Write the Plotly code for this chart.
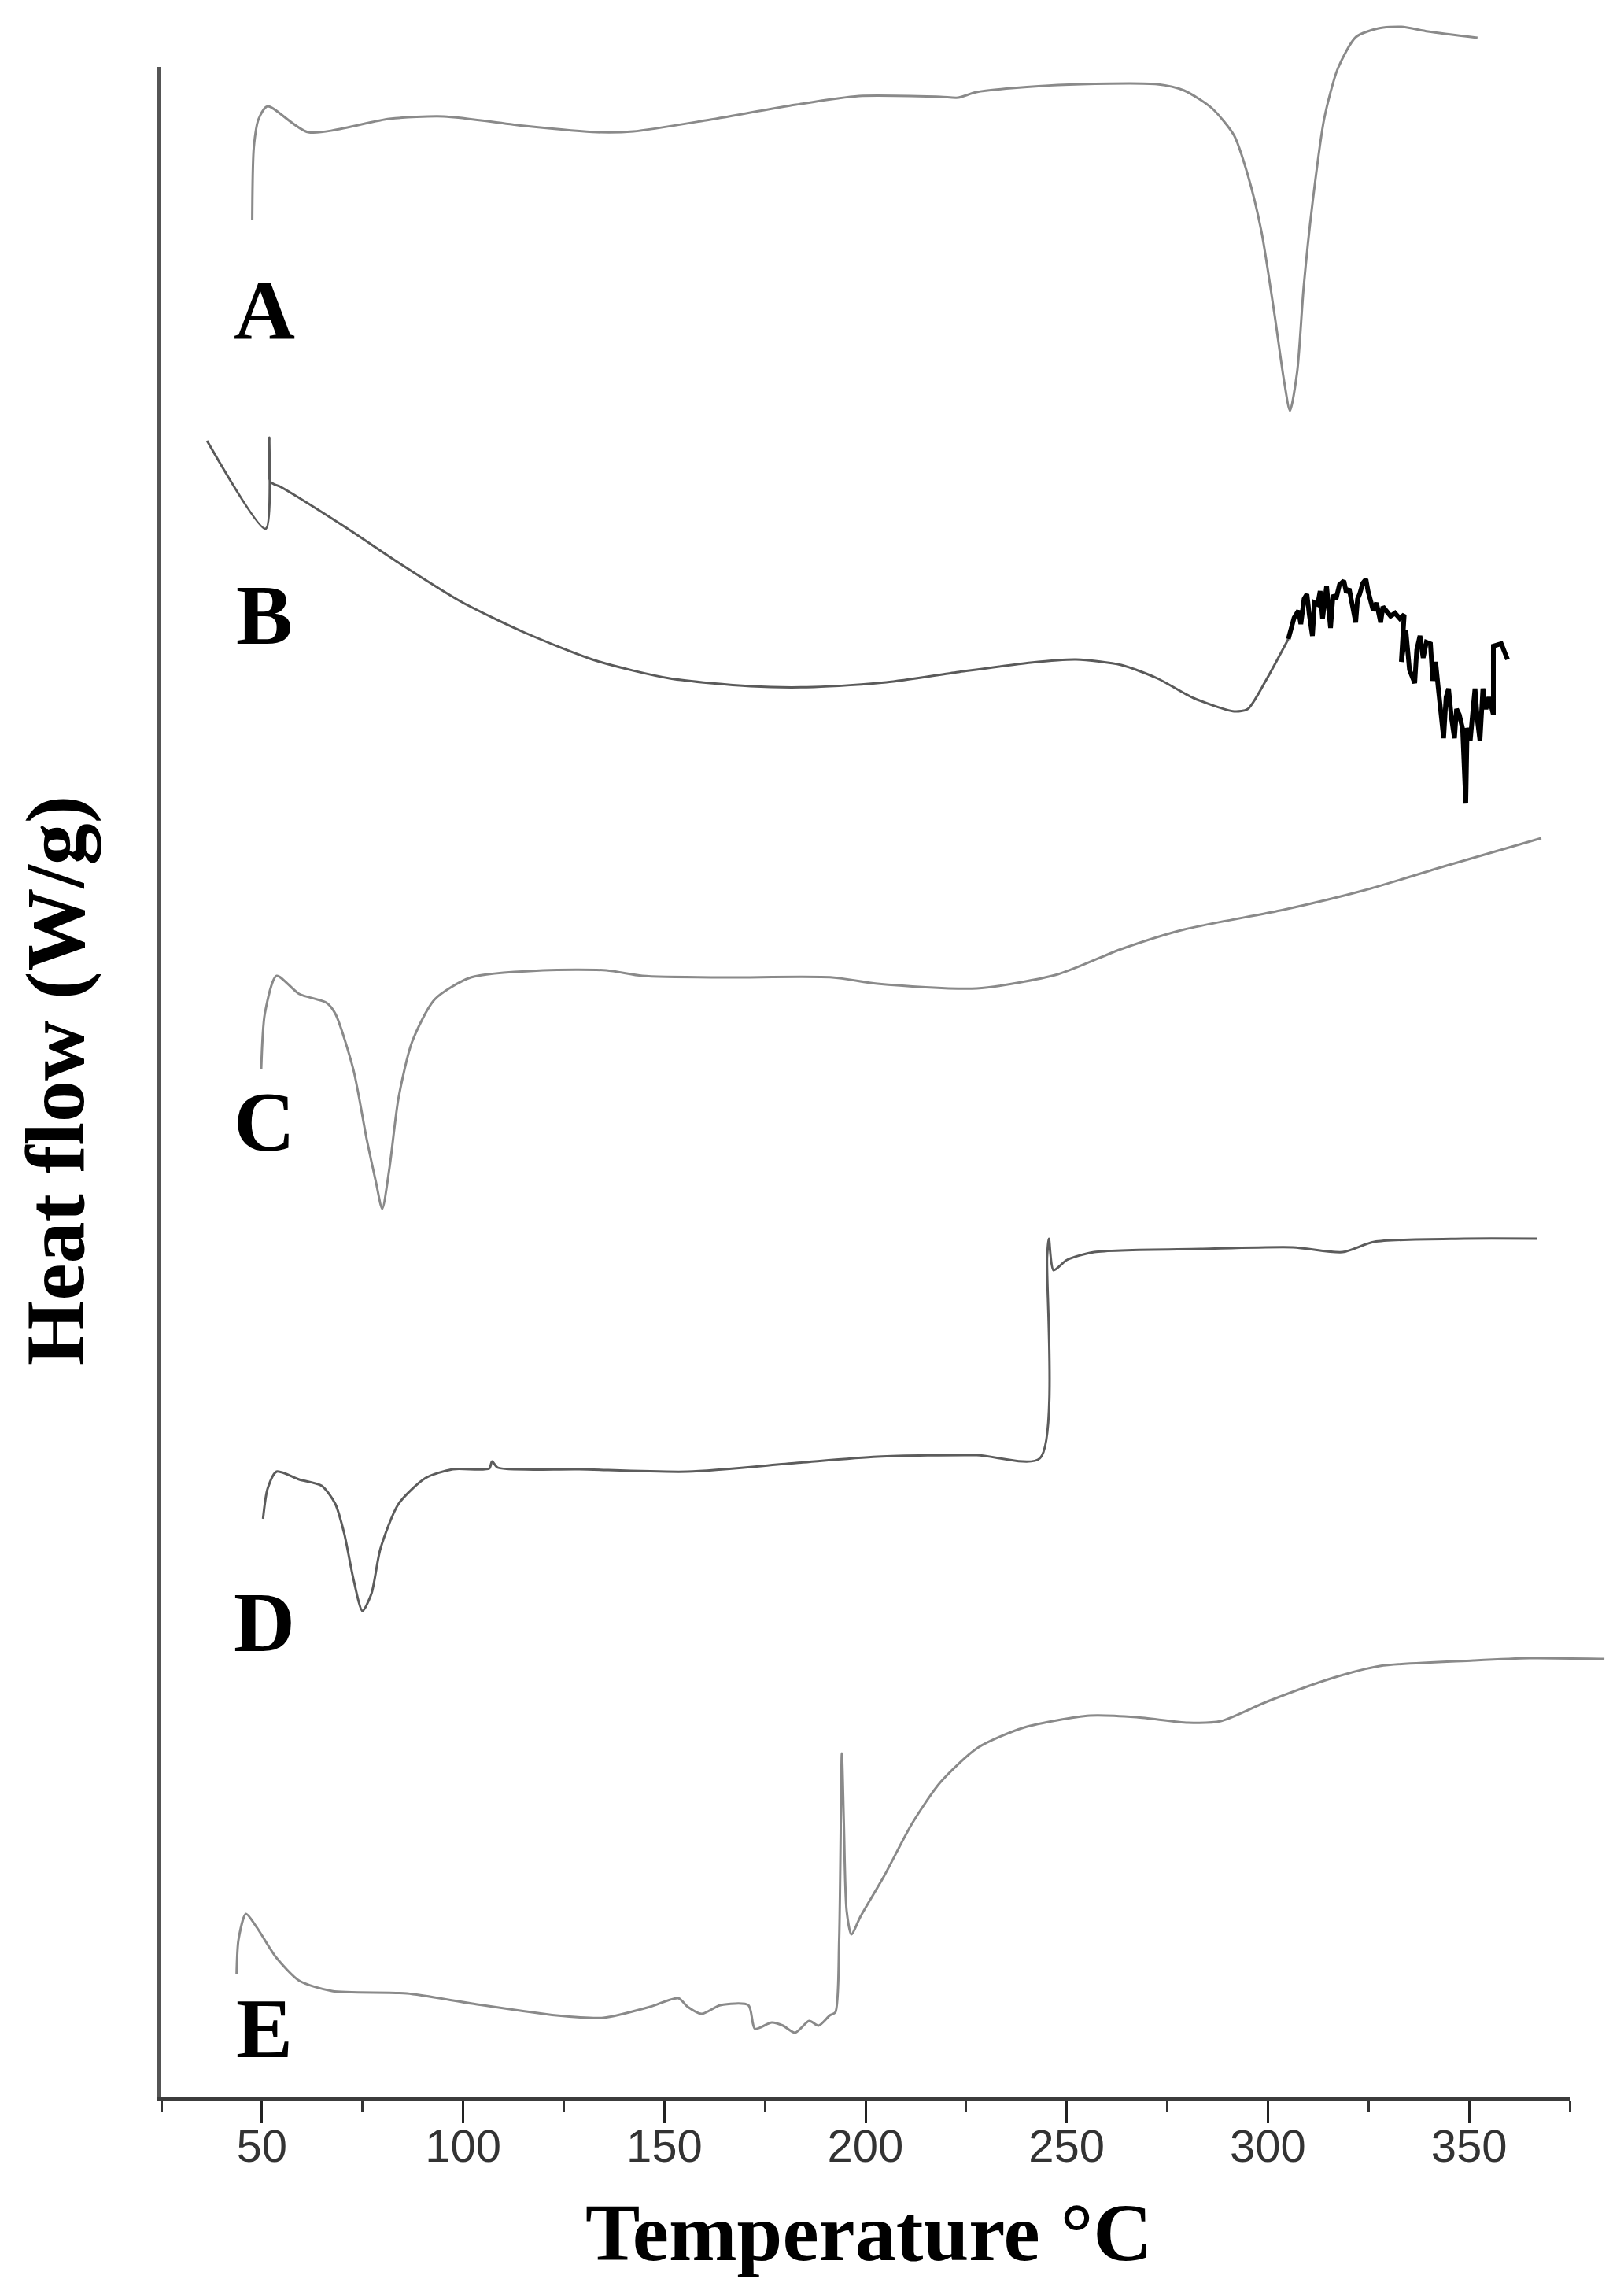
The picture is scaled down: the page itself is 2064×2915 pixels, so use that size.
import plotly.graph_objects as go

# DSC thermograms, heat flow in arbitrary units (curves stacked with offsets)
A_temp = [47.6, 48.0, 49.2, 51.4, 61.5, 81.7, 95.2, 115.3, 133.3, 142.3, 160.3, 182.7, 198.4, 218.6,
          223.1, 227.6, 247.8, 272.5, 279.2, 286.0, 291.6, 295.0, 298.4, 301.7, 304.0, 305.5, 307.3,
          308.9, 311.1, 314.0, 317.4, 321.9, 327.5, 333.2, 339.8, 352.1]
A_flow = [23.92, 24.84, 25.20, 25.36, 25.03, 25.20, 25.23, 25.11, 25.03, 25.04, 25.18, 25.38, 25.49, 25.48,
          25.47, 25.54, 25.63, 25.64, 25.56, 25.34, 24.99, 24.49, 23.77, 22.70, 21.88, 21.49, 21.99,
          23.06, 24.13, 25.20, 25.84, 26.24, 26.35, 26.37, 26.31, 26.23]

B_temp = [36.36, 50.95, 51.85, 52.08, 54.78, 70.48, 83.96, 99.68, 115.38, 133.33, 151.32, 171.46, 187.22,
          205.19, 223.08, 241.07, 252.34, 263.56, 272.54, 281.53, 291.62, 295.0, 299.48, 305.09]
B_flow = [21.11, 19.99, 21.15, 20.59, 20.52, 20.02, 19.56, 19.06, 18.67, 18.31, 18.09, 17.99, 17.98,
          18.04, 18.17, 18.29, 18.33, 18.26, 18.09, 17.84, 17.67, 17.70, 18.06, 18.59]
# noisy decomposition region of B
Bn_temp = [305.09, 306.53, 307.6, 308.2, 309.0, 309.71, 310.3, 311.08, 311.6, 312.39, 313.0, 313.6, 314.6,
           315.1, 315.58, 316.2, 316.95, 317.8, 318.9, 319.5, 320.21, 321.0, 321.83, 322.3, 322.81, 323.6,
           324.38, 324.9, 325.35, 326.2, 327.0, 328.03, 328.6, 329.26, 330.5, 331.6, 332.8, 333.89, 333.17,
           334.3, 335.2, 336.5, 337.0, 337.81, 338.6, 339.4, 340.41, 341.0, 341.7, 342.37, 343.0, 343.68,
           344.3, 344.91, 345.6, 346.38, 346.9, 347.57, 348.4, 349.19, 349.53, 350.3, 351.0, 351.48, 352.1,
           352.71, 353.45, 354.2, 355.0, 356.05, 356.05, 358.0, 359.57]
Bn_flow = [18.59, 18.86, 18.95, 18.78, 19.10, 19.16, 18.90, 18.63, 19.05, 19.03, 19.20, 18.85, 19.26,
           19.05, 18.73, 19.15, 19.10, 19.28, 19.33, 19.18, 19.23, 19.02, 18.80, 19.10, 19.16, 19.30,
           19.35, 19.20, 19.13, 18.95, 19.05, 18.80, 19.00, 18.96, 18.88, 18.92, 18.85, 18.90, 18.30,
           18.70, 18.20, 18.03, 18.45, 18.63, 18.35, 18.55, 18.53, 18.06, 18.30, 17.96, 17.70, 17.33,
           17.85, 17.96, 17.60, 17.33, 17.70, 17.63, 17.45, 16.50, 17.46, 17.30, 17.70, 17.96, 17.55,
           17.30, 17.96, 17.70, 17.85, 17.63, 18.50, 18.53, 18.33]

C_temp = [49.83, 50.73, 53.65, 59.26, 66.0, 68.24, 72.73, 76.1, 78.34, 79.91, 81.71, 83.96, 87.32, 92.93,
          101.93, 119.88, 135.6, 144.57, 164.77, 191.72, 202.94, 227.64, 247.84, 263.56, 279.26, 303.96,
          324.18, 344.38, 367.96]
C_flow = [13.12, 13.83, 14.31, 14.08, 13.97, 13.83, 13.12, 12.22, 11.69, 11.35, 11.87, 12.76, 13.47, 14.01,
          14.29, 14.38, 14.38, 14.31, 14.29, 14.29, 14.21, 14.15, 14.33, 14.65, 14.90, 15.15,
          15.40, 15.71, 16.06]

D_temp = [50.28, 51.4, 53.65, 59.26, 64.87, 68.24, 70.48, 72.73, 74.98, 77.23, 79.46, 83.96, 90.7, 97.43,
          106.5, 107.2, 108.65, 128.85, 155.8, 182.74, 202.94, 227.64, 243.36, 245.14, 245.59, 246.73,
          250.07, 256.84, 283.76, 306.21, 318.57, 326.43, 348.88, 366.83]
D_flow = [7.41, 7.79, 8.01, 7.91, 7.83, 7.60, 7.22, 6.65, 6.24, 6.46, 7.03, 7.60, 7.93, 8.04,
          8.05, 8.14, 8.06, 8.04, 8.01, 8.12, 8.20, 8.22, 8.18, 10.74, 10.97, 10.57,
          10.70, 10.80, 10.84, 10.86, 10.80, 10.93, 10.97, 10.97]

E_temp = [43.71, 44.18, 46.04, 48.84, 53.49, 59.3, 67.43, 86.05, 102.32, 123.24, 134.88, 146.49, 153.47,
          155.8, 159.28, 163.93, 170.91, 172.53, 176.72, 179.52, 182.53, 186.01, 188.33, 191.13, 192.52,
          193.46, 194.14, 194.63, 195.32, 196.49, 198.8, 204.62, 211.6, 218.58, 227.87, 239.51, 255.78,
          267.39, 280.18, 288.32, 299.93, 316.22, 327.85, 351.1, 365.04, 383.64]
E_flow = [1.62, 2.06, 2.39, 2.21, 1.84, 1.54, 1.41, 1.38, 1.25, 1.10, 1.07, 1.21, 1.32,
          1.21, 1.12, 1.23, 1.23, 0.93, 1.01, 0.97, 0.88, 1.03, 0.97, 1.10, 1.14,
          2.06, 4.43, 3.54, 2.43, 2.13, 2.36, 2.87, 3.54, 4.06, 4.50, 4.76, 4.91,
          4.89, 4.82, 4.84, 5.09, 5.39, 5.54, 5.61, 5.64, 5.63]

panel_names = ["A", "B", "C", "D", "E"]

W, H = 2064, 2915
serif = "Liberation Serif, Times New Roman, serif"

fig = go.Figure()
curves = [(A_temp, A_flow, "#8a8a8a", 3, "spline"), (B_temp, B_flow, "#5a5a5a", 3, "spline"),
          (Bn_temp, Bn_flow, "#000000", 6, "linear"), (C_temp, C_flow, "#8a8a8a", 3, "spline"),
          (D_temp, D_flow, "#5c5c5c", 3, "spline"), (E_temp, E_flow, "#8a8a8a", 3, "spline")]
for xs, ys, col, lw, shp in curves:
    ln = dict(color=col, width=lw, shape=shp)
    if shp == "spline":
        ln["smoothing"] = 0.7
    fig.add_trace(go.Scatter(x=xs, y=ys, mode="lines", line=ln, showlegend=False, hoverinfo="skip"))
# empty trace so the visible axis pair gets drawn
fig.add_trace(go.Scatter(x=[], y=[], xaxis="x2", yaxis="y2", showlegend=False))

# px per degree and px per flow unit
px_deg = 5.114
px_unit = 100.0
x0_px, xaxis_px = 197, 2663
axis_line_px = 2657

fig.update_layout(
    width=W, height=H,
    margin=dict(l=0, r=0, t=0, b=0),
    paper_bgcolor="white", plot_bgcolor="rgba(0,0,0,0)",
    xaxis=dict(domain=[x0_px / W, 1], range=[25, 25 + (W - x0_px) / px_deg], visible=False),
    yaxis=dict(domain=[1 - xaxis_px / H, 1], range=[0, xaxis_px / px_unit], visible=False),
    xaxis2=dict(domain=[x0_px / W, 1987 / W], range=[25, 375], anchor="y2", type="linear",
                showline=True, linewidth=5, linecolor="#3c3c3c", showgrid=False, zeroline=False,
                tickmode="linear", tick0=50, dtick=50, ticks="outside", ticklen=28, tickwidth=3,
                tickcolor="#222", ticklabelstandoff=-21,
                tickfont=dict(family="Liberation Sans, Arial, sans-serif", size=58, color="#333"),
                minor=dict(ticks="outside", ticklen=14, tickwidth=3, tickcolor="#333", dtick=25)),
    yaxis2=dict(domain=[1 - axis_line_px / H, 1 - 77 / H], range=[0, (axis_line_px - 77) / px_unit],
                anchor="x2", type="linear",
                showline=True, linewidth=5, linecolor="#555", showgrid=False, zeroline=False,
                showticklabels=False, ticks=""),
)

fig.add_annotation(text="Temperature °C", xref="paper", yref="paper", x=1096 / W, y=1 - 2828 / H,
                   showarrow=False, xanchor="center", yanchor="middle",
                   font=dict(family=serif, size=104, color="black", weight="bold"))
fig.add_annotation(text="Heat flow (W/g)", xref="paper", yref="paper", x=62 / W, y=1 - 1365 / H,
                   showarrow=False, textangle=-90, xanchor="center", yanchor="middle",
                   font=dict(family=serif, size=106, color="black", weight="bold"))

label_y = [22.77, 18.90, 12.46, 6.10, 0.94]
for name, ly in zip(panel_names, label_y):
    fig.add_annotation(text=name, x=50.6, y=ly, xref="x", yref="y", showarrow=False,
                       xanchor="center", yanchor="middle",
                       font=dict(family=serif, size=108, color="black", weight="bold"))

fig.write_html("out.html")
